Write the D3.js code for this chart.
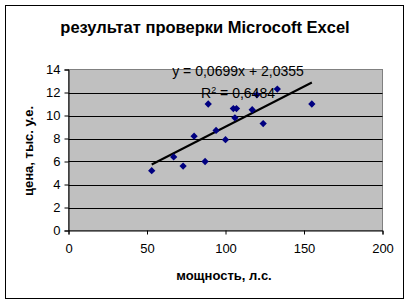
<!DOCTYPE html>
<html>
<head>
<meta charset="utf-8">
<script src="https://cdn.jsdelivr.net/npm/d3@7"></script>
<style>
  body { margin: 0; background: #fff; }
  text { font-family: "Liberation Sans", Arial, sans-serif; }
</style>
</head>
<body>
<div id="chart"></div>
<script>
//========================
//   Data
//========================
var power = [53, 67, 73, 80, 87, 89, 94, 100, 105, 107, 106, 117, 120, 124, 133, 155];//мощность, л.с.
var price = [5.2, 6.4, 5.6, 8.2, 6.0, 11.0, 8.7, 7.9, 10.6, 10.6, 9.8, 10.5, 11.8, 9.3, 12.3, 11.0];//цена, тыс. у.е.
var xTicks = [0, 50, 100, 150, 200];
var yTicks = [0, 2, 4, 6, 8, 10, 12, 14];
var trendCoef = [0.0699, 2.0355];//slope, intercept
var trendLabels = ["y = 0,0699x + 2,0355", "R", "2", " = 0,6484"];

//========================
//   Layout
//========================
var width = 411, height = 305;
var plot = {left: 68.5, top: 69.5, right: 382.5, bottom: 230.5};

var svg = d3.select("#chart").append("svg")
  .attr("width", width)
  .attr("height", height);

//Outer chart border
svg.append("rect")
  .attr("x", 5.5).attr("y", 5.5)
  .attr("width", 398).attr("height", 293)
  .attr("fill", "#fff").attr("stroke", "#000");

var x = d3.scaleLinear().domain([0, 200]).range([plot.left, plot.right]);
var y = d3.scaleLinear().domain([0, 14]).range([plot.bottom, plot.top]);

//Grey plot area
svg.append("rect")
  .attr("x", plot.left).attr("y", plot.top)
  .attr("width", plot.right - plot.left).attr("height", plot.bottom - plot.top)
  .attr("fill", "#c0c0c0").attr("stroke", "#808080");

//Gridlines
svg.append("g").selectAll("line")
  .data(yTicks.filter(function(d) { return d > 0 && d < 14; }))
  .join("line")
  .attr("x1", plot.left).attr("x2", plot.right)
  .attr("y1", function(d) { return Math.round(y(d)) + 0.5; })
  .attr("y2", function(d) { return Math.round(y(d)) + 0.5; })
  .attr("stroke", "#000");

//Axes
var xAxis = svg.append("g")
  .attr("transform", "translate(0," + plot.bottom + ")")
  .call(d3.axisBottom(x).tickValues(xTicks).tickSize(4).tickPadding(9));
var yAxis = svg.append("g")
  .attr("transform", "translate(" + plot.left + ",0)")
  .call(d3.axisLeft(y).tickValues(yTicks).tickSize(4).tickPadding(4));

[xAxis, yAxis].forEach(function(g) {
  g.select(".domain").attr("stroke", "#000");
  g.selectAll(".tick line").attr("stroke", "#000");
  g.selectAll(".tick text")
    .attr("font-family", "Liberation Sans, Arial, sans-serif")
    .attr("font-size", 13)
    .attr("fill", "#000");
});

//Trend line from min to max x
var xr = d3.extent(power);
svg.append("line")
  .attr("x1", x(xr[0])).attr("y1", y(trendCoef[0] * xr[0] + trendCoef[1]))
  .attr("x2", x(xr[1])).attr("y2", y(trendCoef[0] * xr[1] + trendCoef[1]))
  .attr("stroke", "#000").attr("stroke-width", 2);

//Diamond markers
var diamond = d3.symbol().type(d3.symbolDiamond2).size(34);
svg.append("g").selectAll("path")
  .data(power)
  .join("path")
  .attr("transform", function(d, i) { return "translate(" + x(d) + "," + y(price[i]) + ")"; })
  .attr("d", diamond)
  .attr("fill", "#000080");

//Trend equation labels
svg.append("text")
  .attr("x", 238).attr("y", 76)
  .attr("text-anchor", "middle")
  .attr("font-size", 14)
  .text(trendLabels[0]);
var r2 = svg.append("text")
  .attr("x", 238).attr("y", 98)
  .attr("text-anchor", "middle")
  .attr("font-size", 14);
r2.append("tspan").text(trendLabels[1]);
r2.append("tspan").attr("dy", -5).attr("font-size", 9).text(trendLabels[2]);
r2.append("tspan").attr("dy", 5).text(trendLabels[3]);

//Title
svg.append("text")
  .attr("x", 205).attr("y", 33)
  .attr("text-anchor", "middle")
  .attr("font-size", 16.5).attr("font-weight", "bold")
  .text("результат проверки Microcoft Excel");

//Axis titles
svg.append("text")
  .attr("x", 224).attr("y", 280)
  .attr("text-anchor", "middle")
  .attr("font-size", 13).attr("font-weight", "bold")
  .text("мощность, л.с.");
svg.append("text")
  .attr("transform", "translate(33,151) rotate(-90)")
  .attr("text-anchor", "middle")
  .attr("font-size", 13).attr("font-weight", "bold")
  .text("цена, тыс. у.е.");
</script>
</body>
</html>
